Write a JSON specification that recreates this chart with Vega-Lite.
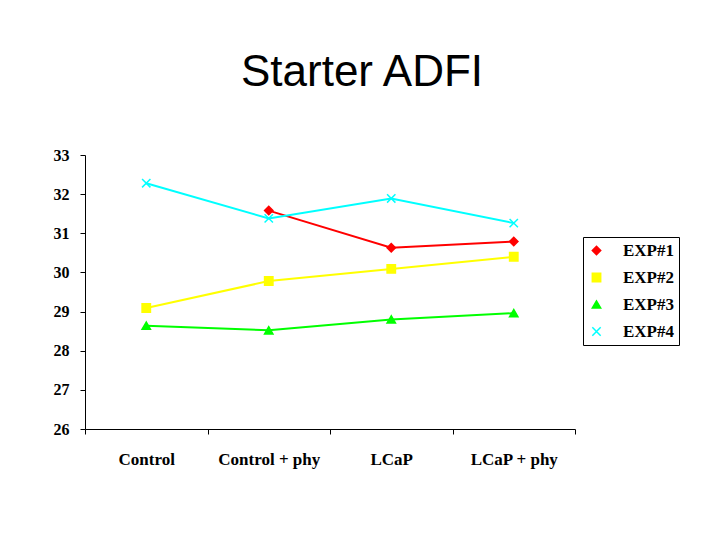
{
  "$schema": "https://vega.github.io/schema/vega-lite/v6.json",
  "width": 490,
  "height": 274,
  "autosize": {"type": "none"},
  "padding": {"left": 85, "top": 155, "right": 148, "bottom": 115},
  "background": "white",
  "title": {
    "text": "Starter ADFI",
    "font": "Liberation Sans",
    "fontSize": 44,
    "fontWeight": "normal",
    "color": "black",
    "anchor": "middle",
    "dx": 32,
    "offset": 52
  },
  "data": {
    "values": [
      {"trt": "Control + phy", "exp": "EXP#1", "v": 31.58},
      {"trt": "LCaP", "exp": "EXP#1", "v": 30.63},
      {"trt": "LCaP + phy", "exp": "EXP#1", "v": 30.79},
      {"trt": "Control", "exp": "EXP#2", "v": 29.09},
      {"trt": "Control + phy", "exp": "EXP#2", "v": 29.78},
      {"trt": "LCaP", "exp": "EXP#2", "v": 30.09},
      {"trt": "LCaP + phy", "exp": "EXP#2", "v": 30.4},
      {"trt": "Control", "exp": "EXP#3", "v": 28.64},
      {"trt": "Control + phy", "exp": "EXP#3", "v": 28.52},
      {"trt": "LCaP", "exp": "EXP#3", "v": 28.8},
      {"trt": "LCaP + phy", "exp": "EXP#3", "v": 28.96},
      {"trt": "Control", "exp": "EXP#4", "v": 32.28},
      {"trt": "Control + phy", "exp": "EXP#4", "v": 31.38},
      {"trt": "LCaP", "exp": "EXP#4", "v": 31.89},
      {"trt": "LCaP + phy", "exp": "EXP#4", "v": 31.26}
    ]
  },
  "encoding": {
    "x": {
      "field": "trt",
      "type": "nominal",
      "sort": ["Control", "Control + phy", "LCaP", "LCaP + phy"],
      "scale": {"type": "band", "paddingInner": 0, "paddingOuter": 0},
      "axis": {
        "title": null,
        "labelAngle": 0,
        "labelFont": "Liberation Serif",
        "labelFontWeight": "bold",
        "labelFontSize": 17,
        "labelColor": "black",
        "labelPadding": 17,
        "tickBand": "extent",
        "tickSize": 5,
        "tickColor": "black",
        "domainColor": "black",
        "grid": false
      }
    },
    "y": {
      "field": "v",
      "type": "quantitative",
      "scale": {"domain": [26, 33], "nice": false, "zero": false},
      "axis": {
        "title": null,
        "values": [26, 27, 28, 29, 30, 31, 32, 33],
        "labelFont": "Liberation Serif",
        "labelFontWeight": "bold",
        "labelFontSize": 16,
        "labelColor": "black",
        "labelPadding": 11,
        "tickSize": 5,
        "tickColor": "black",
        "domainColor": "black",
        "grid": false
      }
    },
    "color": {
      "field": "exp",
      "type": "nominal",
      "scale": {"domain": ["EXP#1", "EXP#2", "EXP#3", "EXP#4"], "range": ["#FF0000", "#FFFF00", "#00FF00", "#00FFFF"]}
    }
  },
  "layer": [
    {
      "mark": {"type": "line", "strokeWidth": 2}
    },
    {
      "mark": {"type": "point", "filled": true, "size": 70, "opacity": 1, "strokeWidth": 1.5},
      "encoding": {
        "stroke": {
          "field": "exp",
          "type": "nominal",
          "scale": {"domain": ["EXP#1", "EXP#2", "EXP#3", "EXP#4"], "range": ["#FF0000", "#FFFF00", "#00FF00", "#00FFFF"]}
        },
        "shape": {
          "field": "exp",
          "type": "nominal",
          "scale": {"domain": ["EXP#1", "EXP#2", "EXP#3", "EXP#4"], "range": ["diamond", "square", "triangle-up", "M-1,-1L1,1M-1,1L1,-1"]}
        }
      }
    }
  ],
  "config": {
    "view": {"stroke": null},
    "legend": {
      "title": null,
      "orient": "none",
      "legendX": 498,
      "legendY": 82,
      "strokeColor": "black",
      "padding": 5,
      "labelFont": "Liberation Serif",
      "labelFontWeight": "bold",
      "labelFontSize": 17,
      "labelColor": "black",
      "labelOffset": 18,
      "rowPadding": 9,
      "symbolSize": 70,
      "symbolStrokeWidth": 1.5
    }
  }
}
